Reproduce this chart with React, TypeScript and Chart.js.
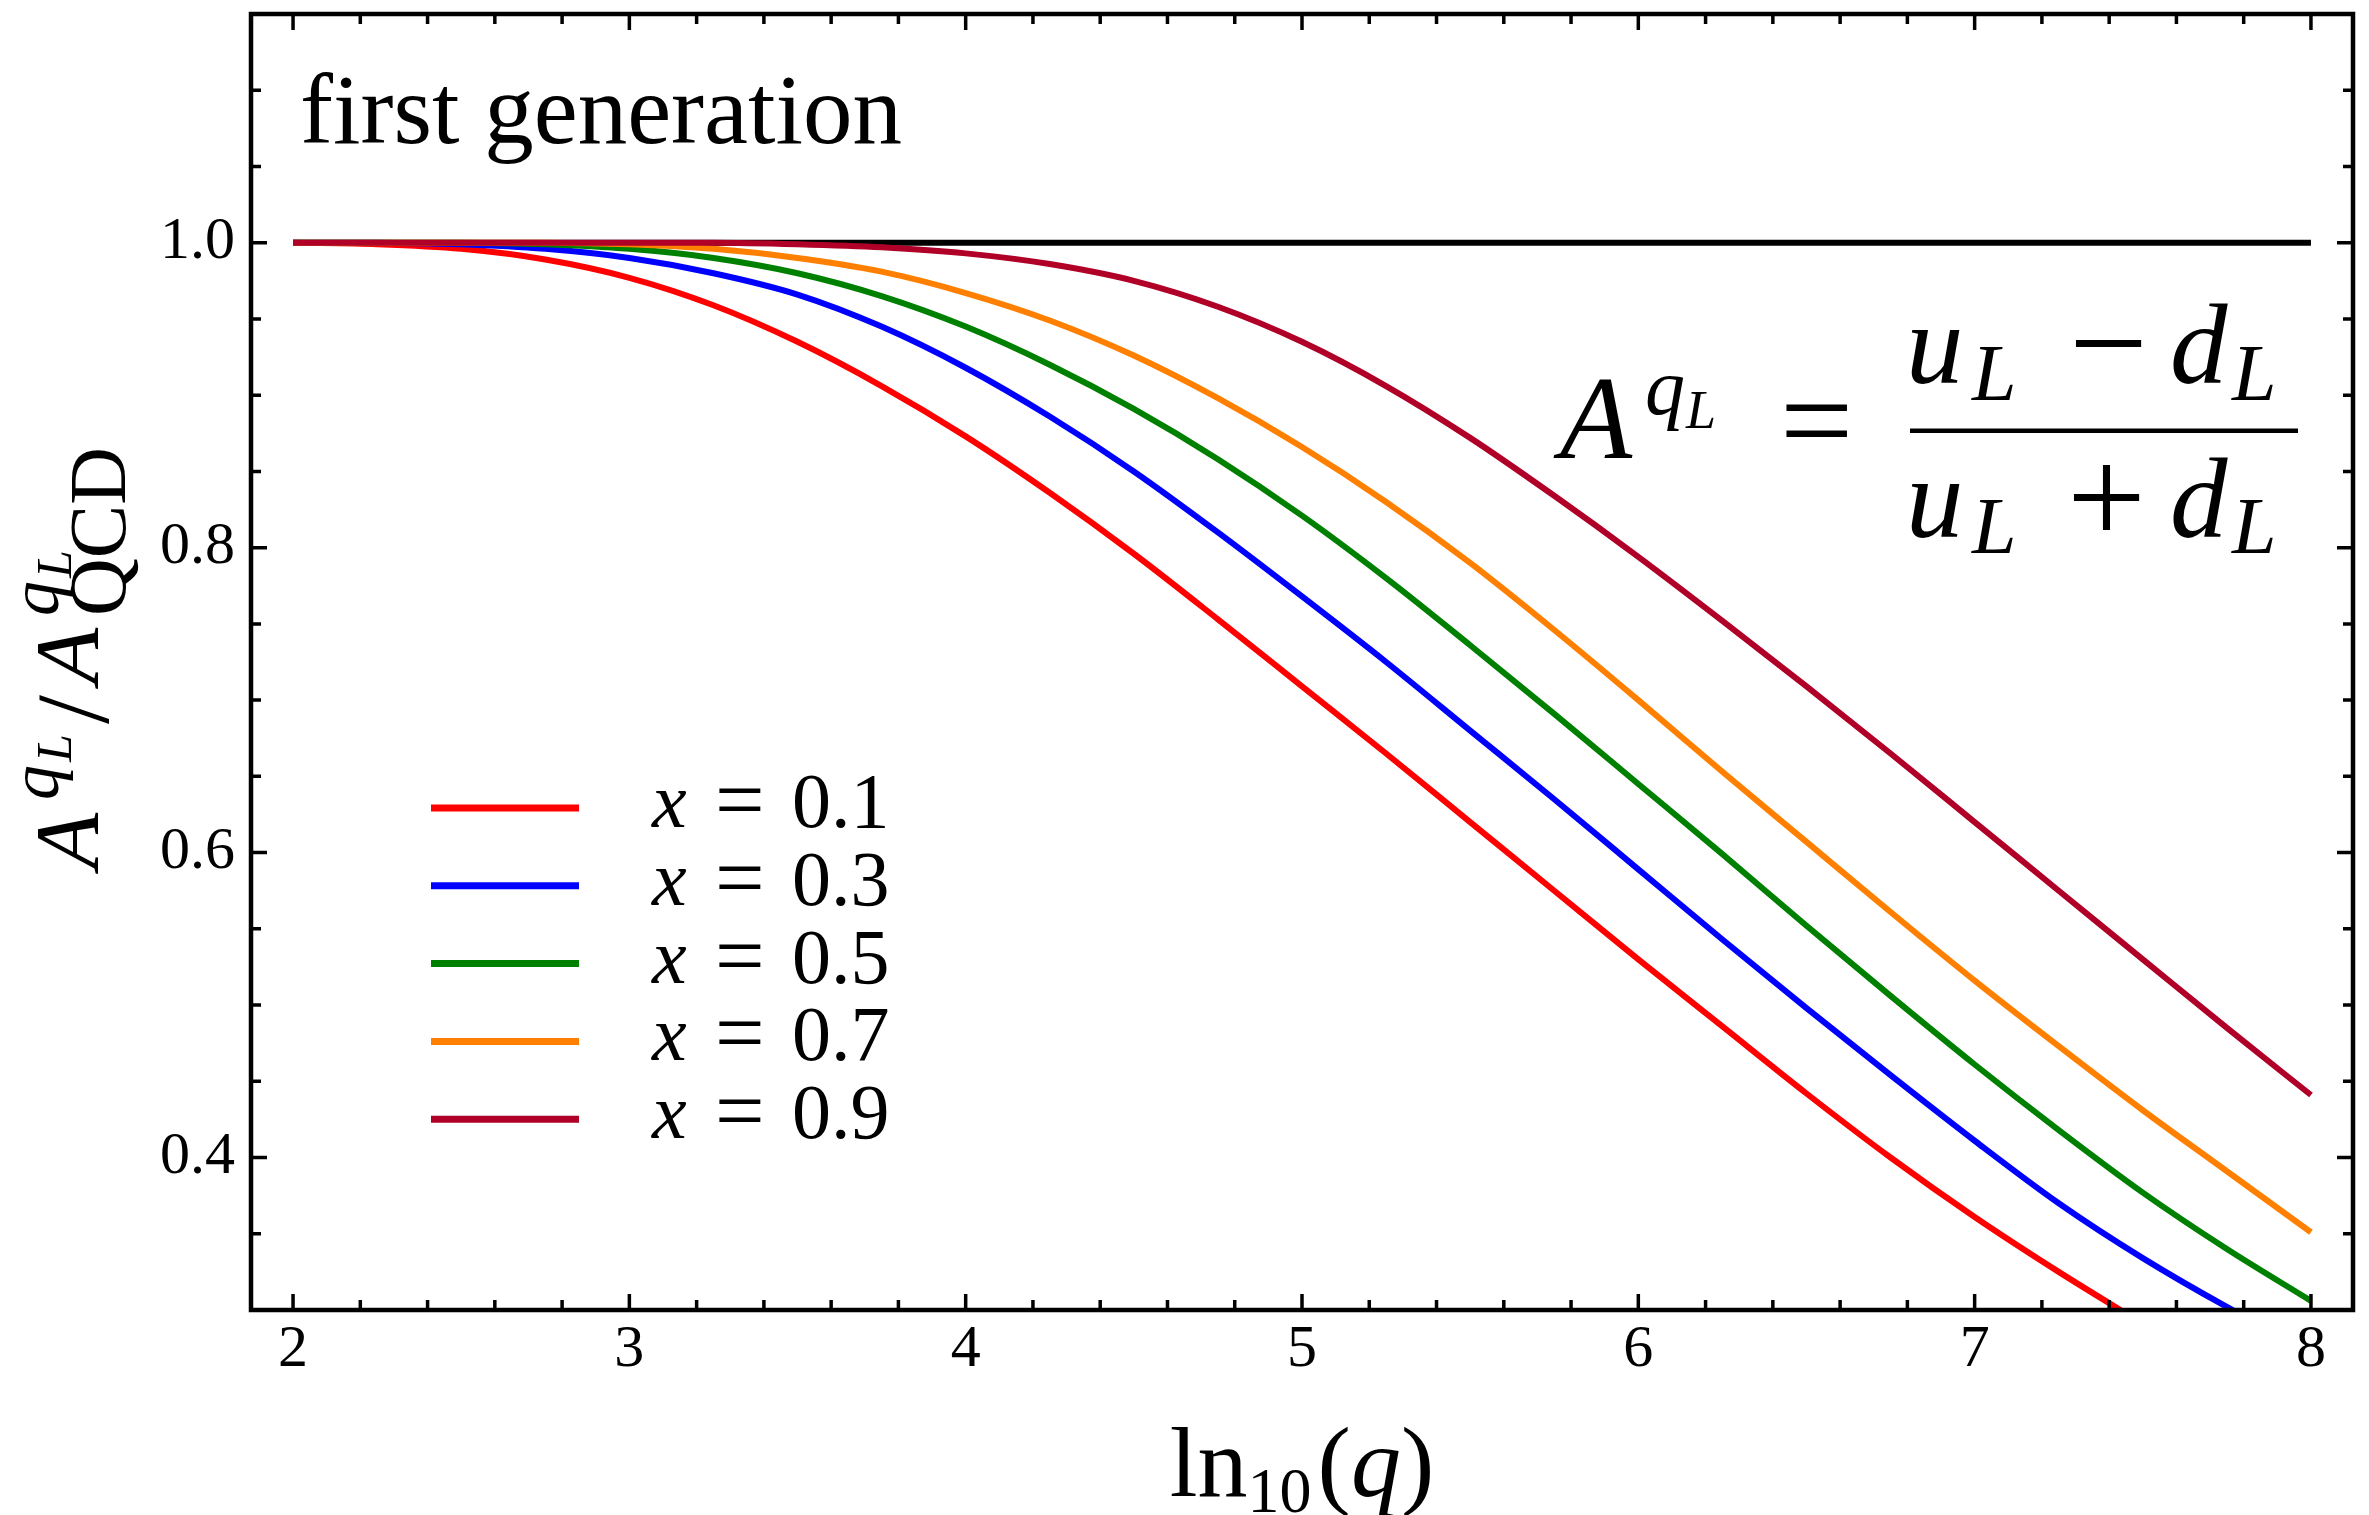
import React, { useEffect, useRef } from 'react';
import { Chart, registerables } from 'chart.js';

Chart.register(...registerables);

// ---- data ----
const lnQ = [2, 2.25, 2.5, 2.75, 3, 3.25, 3.5, 3.75, 4, 4.25, 4.5, 4.75, 5, 5.25, 5.5, 5.75, 6, 6.25, 6.5, 6.75, 7, 7.25, 7.5, 7.75, 8];

const ratioX01 = [1.0, 0.999, 0.996, 0.989, 0.977, 0.959, 0.935, 0.906, 0.873, 0.836, 0.796, 0.753, 0.709, 0.665, 0.62, 0.575, 0.53, 0.486, 0.442, 0.4, 0.361, 0.325, 0.291];
const ratioX03 = [1.0, 1.0, 0.999, 0.996, 0.99, 0.98, 0.966, 0.945, 0.918, 0.886, 0.85, 0.81, 0.768, 0.725, 0.68, 0.635, 0.589, 0.543, 0.498, 0.454, 0.411, 0.37, 0.334, 0.302, 0.273];
const ratioX05 = [1.0, 1.0, 1.0, 0.999, 0.996, 0.99, 0.98, 0.965, 0.945, 0.92, 0.891, 0.858, 0.821, 0.78, 0.736, 0.691, 0.645, 0.599, 0.552, 0.506, 0.461, 0.418, 0.377, 0.34, 0.306];
const ratioX07 = [1.0, 1.0, 1.0, 1.0, 0.999, 0.996, 0.99, 0.981, 0.967, 0.949, 0.926, 0.898, 0.866, 0.83, 0.79, 0.746, 0.7, 0.653, 0.607, 0.561, 0.516, 0.473, 0.431, 0.391, 0.351];
const ratioX09 = [1.0, 1.0, 1.0, 1.0, 1.0, 1.0, 0.999, 0.997, 0.993, 0.986, 0.975, 0.958, 0.935, 0.906, 0.872, 0.834, 0.794, 0.752, 0.709, 0.665, 0.62, 0.575, 0.53, 0.485, 0.441];

const referenceLineX = [2, 8];
const referenceLineY = [1, 1];

const seriesValues = ['0.1', '0.3', '0.5', '0.7', '0.9'];
const seriesColors = ['#FF0000', '#0000FF', '#008000', '#FF8000', '#B00028'];
const seriesData = [ratioX01, ratioX03, ratioX05, ratioX07, ratioX09];

const xMajorTicks = [2, 3, 4, 5, 6, 7, 8];
const yMajorTicks = [0.4, 0.6, 0.8, 1.0];

const SERIF = "'Liberation Serif', 'Times New Roman', serif";
const fnt = (size: number, italic = false) => `${italic ? 'italic ' : ''}${size}px ${SERIF}`;

function run(ctx: CanvasRenderingContext2D, text: string, font: string, x: number, y: number) {
  ctx.font = font;
  ctx.fillText(text, x, y);
  return x + ctx.measureText(text).width;
}

const decorPlugin = {
  id: 'decor',
  afterDraw(chart: any) {
    const ctx: CanvasRenderingContext2D = chart.ctx;
    const { left, right, top, bottom } = chart.chartArea;
    const xs = chart.scales.x;
    const ys = chart.scales.y;
    ctx.save();
    ctx.fillStyle = '#000';
    ctx.strokeStyle = '#000';
    ctx.lineCap = 'butt';

    // ticks
    ctx.lineWidth = 3.5;
    ctx.beginPath();
    for (let i = 10; i <= 40; i++) {
      const v = i / 5;
      const len = i % 5 === 0 ? 16 : 10;
      const px = xs.getPixelForValue(v);
      ctx.moveTo(px, bottom); ctx.lineTo(px, bottom - len);
      ctx.moveTo(px, top); ctx.lineTo(px, top + len);
    }
    for (let i = 7; i <= 22; i++) {
      const v = i / 20;
      const len = i % 4 === 0 ? 16 : 10;
      const py = ys.getPixelForValue(v);
      ctx.moveTo(left, py); ctx.lineTo(left + len, py);
      ctx.moveTo(right, py); ctx.lineTo(right - len, py);
    }
    ctx.stroke();

    // frame
    ctx.lineWidth = 4.5;
    ctx.strokeRect(left, top, right - left, bottom - top);

    ctx.textAlign = 'left';
    ctx.textBaseline = 'alphabetic';

    // "first generation"
    run(ctx, 'first generation', fnt(99), 300, 143);

    // legend
    const lx0 = 431, lx1 = 579, ly0 = 808, ldy = 77.8;
    seriesValues.forEach((val, i) => {
      const y = ly0 + i * ldy;
      ctx.strokeStyle = seriesColors[i];
      ctx.lineWidth = 7;
      ctx.beginPath();
      ctx.moveTo(lx0, y); ctx.lineTo(lx1, y);
      ctx.stroke();
      ctx.fillStyle = '#000';
      run(ctx, 'x', fnt(78, true), 652, y + 19);
      run(ctx, '=', fnt(88), 715, y + 21);
      run(ctx, val, fnt(78), 792, y + 19);
    });

    // formula A^{q_L} = (u_L - d_L)/(u_L + d_L)
    ctx.fillStyle = '#000';
    run(ctx, 'A', fnt(118, true), 1560, 458);
    run(ctx, 'q', fnt(80, true), 1645, 414);
    run(ctx, 'L', fnt(54, true), 1686, 428);
    run(ctx, '=', fnt(130), 1780, 464);
    ctx.fillRect(1910, 428.5, 388, 4.5);
    run(ctx, 'u', fnt(115, true), 1906, 383);
    run(ctx, 'L', fnt(80, true), 1972, 400);
    run(ctx, '\u2212', fnt(140), 2069, 390);
    run(ctx, 'd', fnt(115, true), 2170, 383);
    run(ctx, 'L', fnt(80, true), 2232, 400);
    run(ctx, 'u', fnt(115, true), 1906, 537);
    run(ctx, 'L', fnt(80, true), 1972, 553);
    run(ctx, '+', fnt(140), 2067, 544);
    run(ctx, 'd', fnt(115, true), 2170, 537);
    run(ctx, 'L', fnt(80, true), 2232, 553);

    // x-axis title: ln_10(q)
    {
      const cx = (left + right) / 2;
      const base = 1496;
      const parts: [string, string, number][] = [
        ['ln', fnt(100), 0],
        ['10', fnt(64), 16],
        ['(', fnt(100), 0],
        ['q', fnt(100, true), 0],
        [')', fnt(100), 0],
      ];
      let total = 0;
      parts.forEach(([t, f]) => { ctx.font = f; total += ctx.measureText(t).width; });
      total += 6;
      let x = cx - total / 2;
      parts.forEach(([t, f, dy], k) => {
        x = run(ctx, t, f, x, base + dy);
        if (k === 1) x += 6;
      });
    }

    // y-axis title (rotated): A^{q_L} / A^{q_L}_{QCD}
    ctx.save();
    ctx.translate(98, 0);
    ctx.rotate(-Math.PI / 2);
    run(ctx, 'A', fnt(92, true), -869, 0);
    run(ctx, 'q', fnt(70, true), -800, -40);
    run(ctx, 'L', fnt(50, true), -762, -27);
    run(ctx, '/', fnt(104), -724, 10);
    run(ctx, 'A', fnt(92, true), -684, 0);
    run(ctx, 'q', fnt(70, true), -616, -40);
    run(ctx, 'L', fnt(50, true), -578, -27);
    run(ctx, 'QCD', fnt(80), -616, 27);
    ctx.restore();

    ctx.restore();
  },
};

export default function App() {
  const ref = useRef<HTMLCanvasElement | null>(null);

  useEffect(() => {
    if (!ref.current) return;
    const mk = (ys: number[]) => ys.map((y, i) => ({ x: lnQ[i], y }));
    const datasets: any[] = seriesData.map((ys, i) => ({
      label: 'x = ' + seriesValues[i],
      data: mk(ys),
      borderColor: seriesColors[i],
      backgroundColor: seriesColors[i],
      borderWidth: 6,
      pointRadius: 0,
      fill: false,
      cubicInterpolationMode: 'monotone',
      clip: 0,
      order: 4 - i,
    }));
    datasets.push({
      label: 'reference',
      data: referenceLineX.map((x, i) => ({ x, y: referenceLineY[i] })),
      borderColor: '#000000',
      borderWidth: 6,
      pointRadius: 0,
      fill: false,
      clip: 0,
      order: 10,
    });

    const tickFont = { family: SERIF, size: 60 };
    const chart = new Chart(ref.current, {
      type: 'line',
      data: { datasets },
      options: {
        animation: false,
        responsive: false,
        maintainAspectRatio: false,
        devicePixelRatio: 1,
        layout: { padding: { top: 14, right: 16, left: 0, bottom: 0 } },
        plugins: { legend: { display: false }, tooltip: { enabled: false } },
        elements: { point: { radius: 0 } },
        scales: {
          x: {
            type: 'linear',
            min: 1.875,
            max: 8.125,
            grid: { display: false, drawTicks: false },
            border: { display: false },
            ticks: {
              font: tickFont,
              color: '#000',
              padding: 4,
              maxRotation: 0,
              autoSkip: false,
              callback: (v: any) => String(v),
            },
            afterBuildTicks: (s: any) => { s.ticks = xMajorTicks.map((v) => ({ value: v })); },
            afterFit: (s: any) => { s.height = 205; s.paddingLeft = 0; s.paddingRight = 0; },
          },
          y: {
            type: 'linear',
            min: 0.3,
            max: 1.15,
            grid: { display: false, drawTicks: false },
            border: { display: false },
            ticks: {
              font: tickFont,
              color: '#000',
              padding: 16,
              autoSkip: false,
              callback: (v: any) => Number(v).toFixed(1),
            },
            afterBuildTicks: (s: any) => { s.ticks = yMajorTicks.map((v) => ({ value: v })); },
            afterFit: (s: any) => { s.width = 251; s.paddingTop = 0; s.paddingBottom = 0; },
          },
        },
      } as any,
      plugins: [decorPlugin],
    });
    return () => chart.destroy();
  }, []);

  return (
    <div style={{ position: 'fixed', left: 0, top: 0, width: 2369, height: 1515, background: '#fff' }}>
      <canvas ref={ref} width={2369} height={1515} style={{ display: 'block', width: 2369, height: 1515 }} />
    </div>
  );
}
